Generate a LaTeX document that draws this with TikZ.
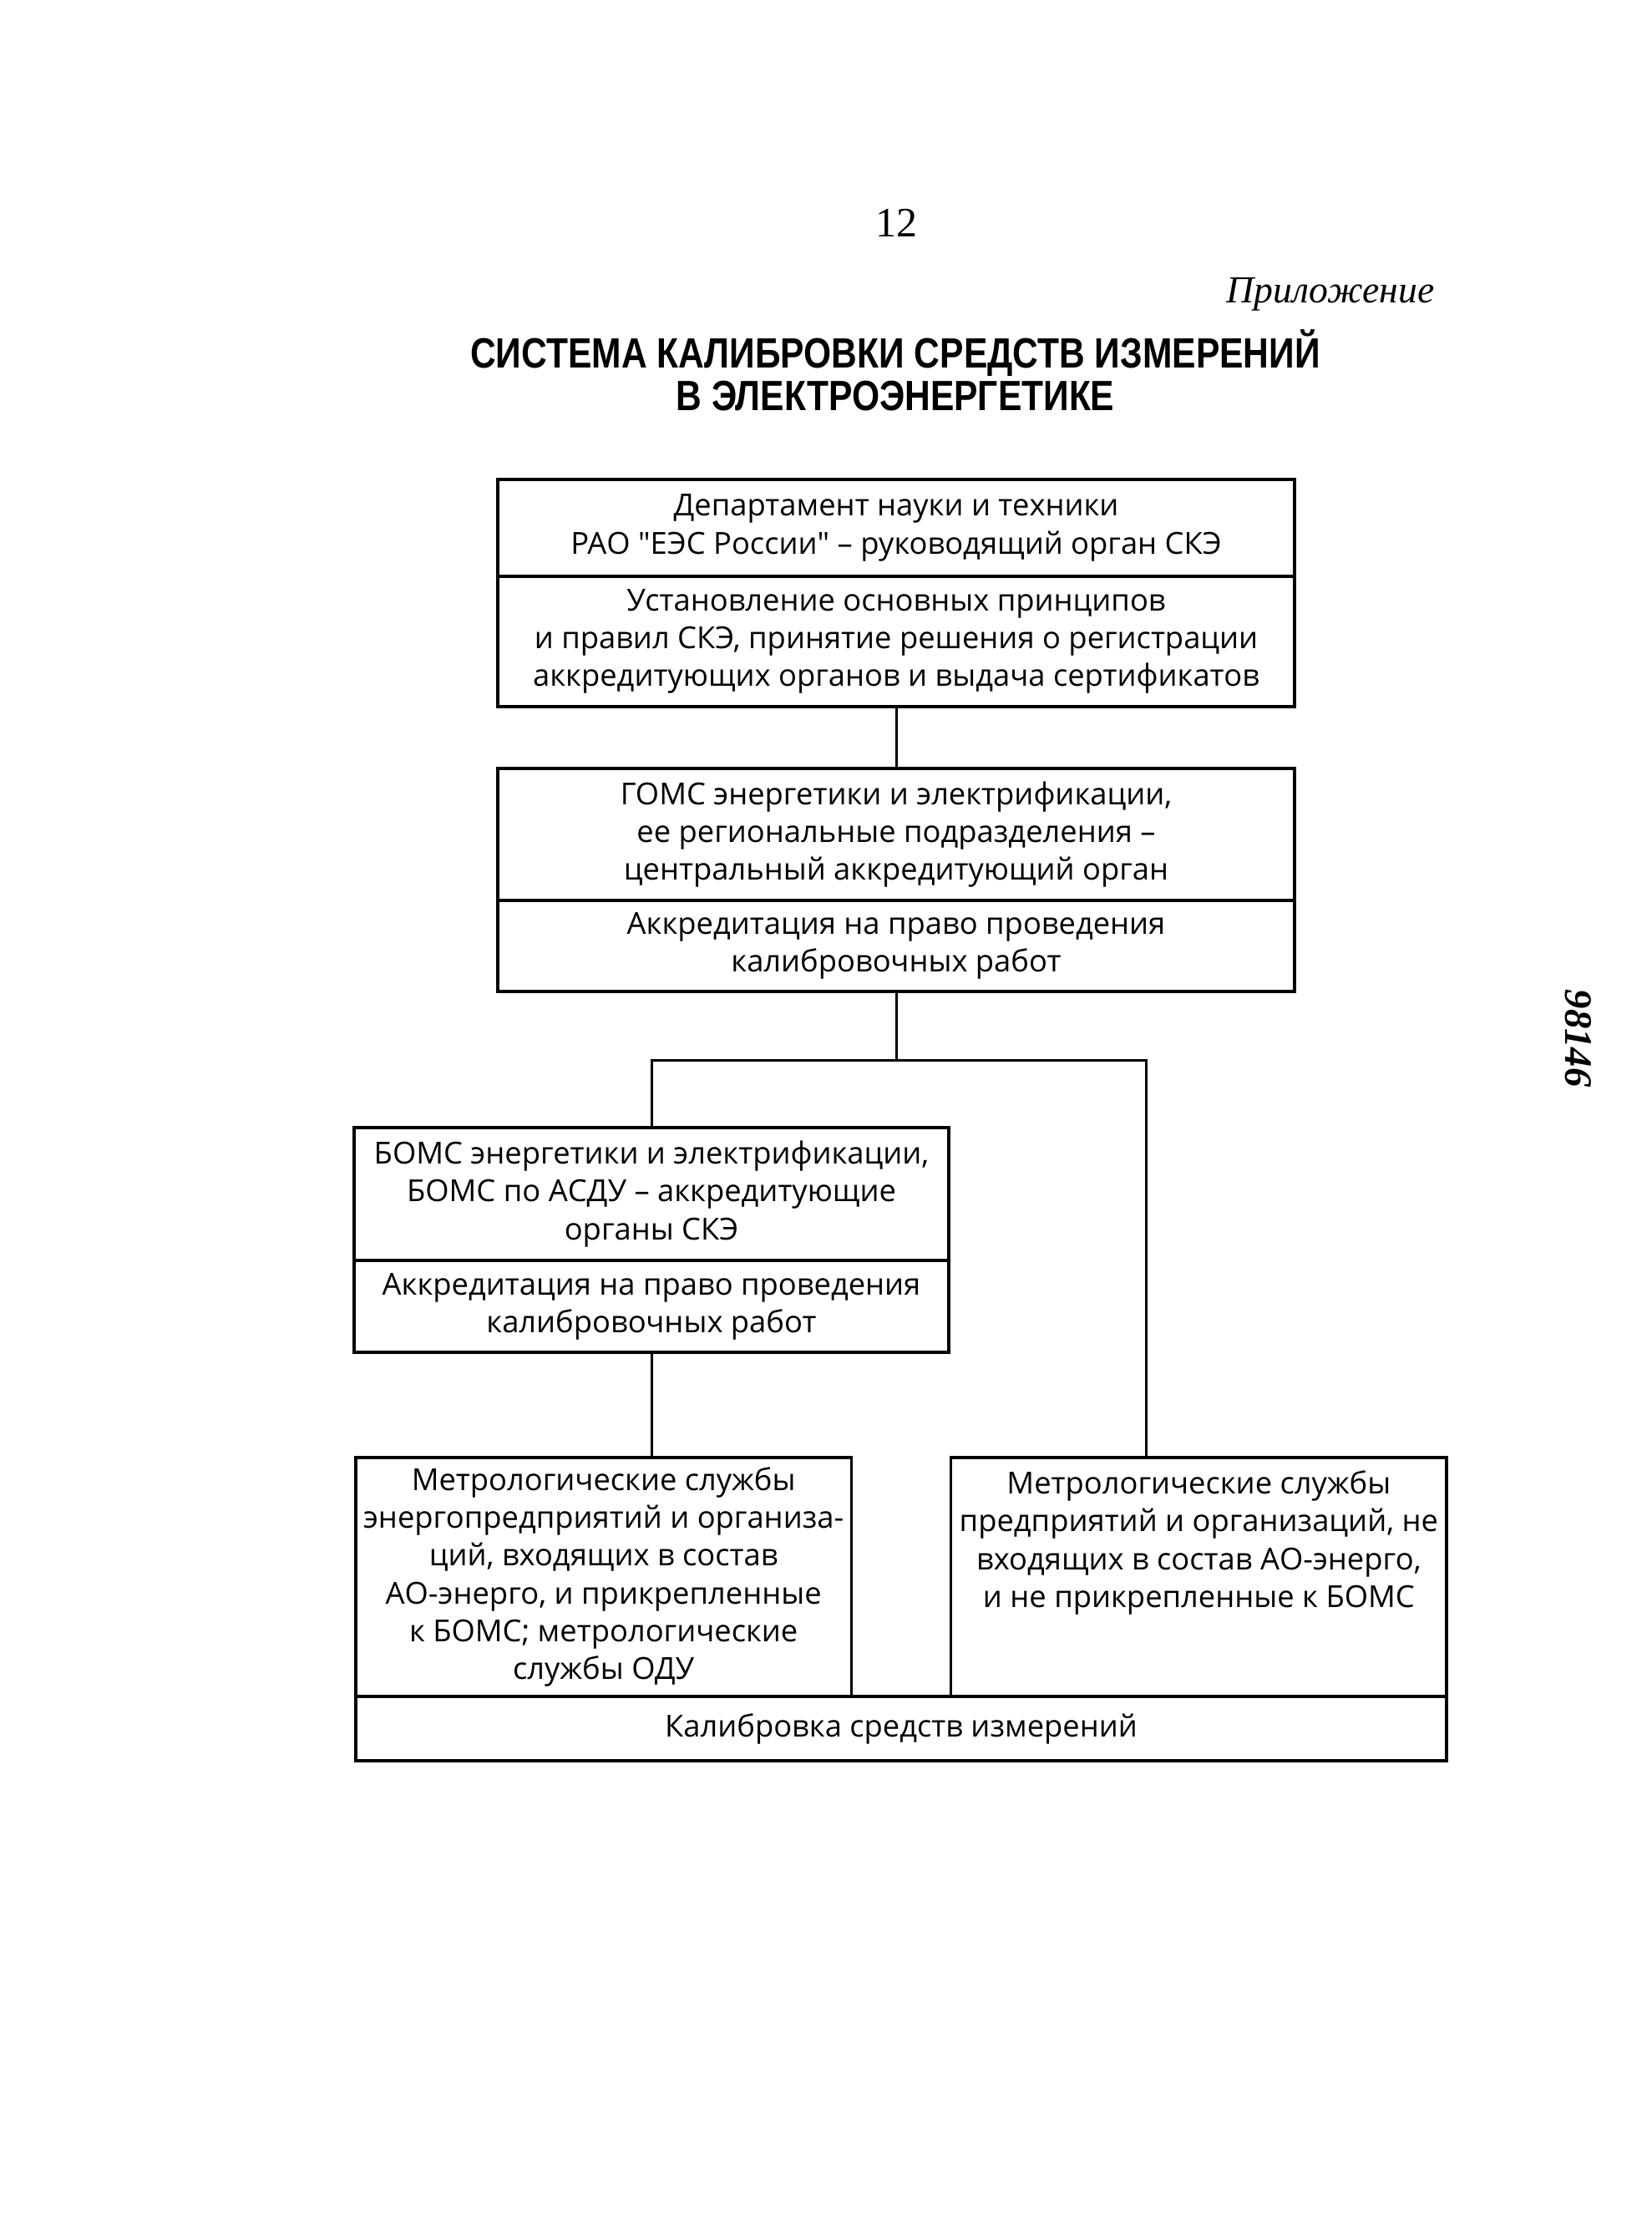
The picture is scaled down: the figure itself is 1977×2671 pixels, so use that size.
\documentclass[tikz,border=0pt]{standalone}
\usepackage{fontspec}
\setmainfont{Open Sans}[Ligatures=TeXOff]
\newfontfamily\headfont[FakeStretch=0.84]{Liberation Sans}
\newfontfamily\pagefont{Liberation Serif}
\usetikzlibrary{positioning, calc}
\tikzset{
    base/.style = {
        draw=black, line width=1pt, rectangle, inner sep=0pt, outer sep=0pt,
        align=center, font=\fontsize{10.9}{13.6}\selectfont
    },
    % Blocks
    wide/.style   = {base, minimum width=286.2pt},
    mid/.style    = {base, minimum width=213.6pt},
    narrow/.style = {base, minimum width=178pt, minimum height=85.8pt},
    % Connectors
    link/.style = {line width=0.9pt}
}

\begin{document}
\begin{tikzpicture}[x=0.3pt, y=-0.3pt]
    \useasboundingbox (0,0) rectangle (1977,2671);

    % page head
    \node (pagenum) [font=\pagefont\fontsize{15}{18}\selectfont] at (1073,267) {12};
    \node (appx) [anchor=base east, font=\pagefont\itshape\fontsize{13.7}{16}\selectfont] at (1729,363) {Приложение};
    \node (title) [align=center, font=\headfont\bfseries\fontsize{15.2}{15.3}\selectfont] at (1072,443)
        {СИСТЕМА КАЛИБРОВКИ СРЕДСТВ ИЗМЕРЕНИЙ\\В ЭЛЕКТРОЭНЕРГЕТИКЕ};
    \node (inv) [rotate=-90, font=\pagefont\itshape\bfseries\fontsize{14}{14}\selectfont] at (1890,1243) {98146};

    % top level
    \node (dept) [wide, minimum height=34.8pt, anchor=north] at (1073,574)
        {Департамент науки и техники\\РАО "ЕЭС России" – руководящий орган СКЭ};
    \node (deptfn) [wide, minimum height=46.8pt, below=0pt of dept]
        {Установление основных принципов\\и правил СКЭ, принятие решения о регистрации\\аккредитующих органов и выдача сертификатов};

    \node (goms) [wide, minimum height=47.4pt, anchor=north] at (1073,920)
        {ГОМС энергетики и электрификации,\\ее региональные подразделения –\\центральный аккредитующий орган};
    \node (gomsfn) [wide, minimum height=32.7pt, below=0pt of goms]
        {Аккредитация на право проведения\\калибровочных работ};

    % second level
    \node (boms) [mid, minimum height=47.7pt, anchor=north] at (780,1350)
        {БОМС энергетики и электрификации,\\БОМС по АСДУ – аккредитующие\\органы СКЭ};
    \node (bomsfn) [mid, minimum height=33pt, below=0pt of boms]
        {Аккредитация на право проведения\\калибровочных работ};

    % services
    \node (msin) [narrow, anchor=north west] at (426,1745)
        {Метрологические службы\\энергопредприятий и организа-\\ций, входящих в состав\\АО-энерго, и прикрепленные\\к БОМС; метрологические\\службы ОДУ};
    \node (msout) [narrow, anchor=north east] at (1732,1745)
        {Метрологические службы\\предприятий и организаций, не\\входящих в состав АО-энерго,\\и не прикрепленные к БОМС\\~\\~};
    \node (calib) [base, minimum width=391.8pt, minimum height=23.1pt, anchor=north west] at (msin.south west)
        {Калибровка средств измерений};

    \coordinate (split) at (1073,1269);
    \coordinate (fork) at (1372,1269);

    \draw [link] (deptfn) -- (goms);
    \draw [link] (gomsfn) -- (split);
    \draw [link] (boms.north) |- (fork) -- (fork |- msout.north);
    \draw [link] (bomsfn) -- (bomsfn.south |- msin.north);
\end{tikzpicture}
\end{document}
